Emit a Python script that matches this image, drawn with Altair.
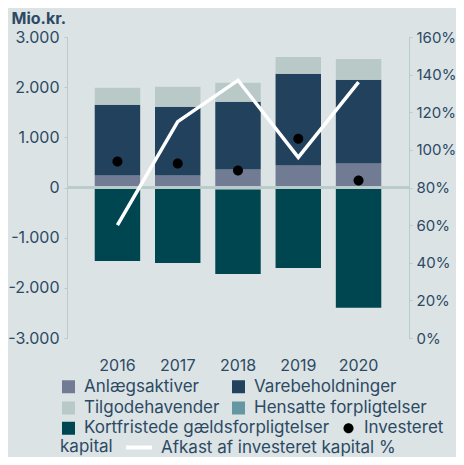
import altair as alt
import pandas as pd

years = ["2016", "2017", "2018", "2019", "2020"]
anlaeg = [238, 238, 358, 437, 477]
vare = [1411, 1371, 1351, 1828, 1669]
tilgode = [338, 398, 377, 338, 417]
hensatte = [-12, -12, -45, -15, -12]
kortfristede = [-1452, -1492, -1677, -1588, -2386]
investeret = [517, 477, 338, 974, 139]
afkast = [60, 115, 137, 96, 136]

bar_series = ["Anlægsaktiver", "Varebeholdninger", "Tilgodehavender",
              "Hensatte forpligtelser", "Kortfristede gældsforpligtelser"]
bar_colors = ["#717c94", "#22415c", "#b8c9c8", "#6497a1", "#004651"]
bar_values = [anlaeg, vare, tilgode, hensatte, kortfristede]
point_series = "Investeret kapital"
line_series = "Afkast af investeret kapital %"

rows = []
for i, s in enumerate(bar_series):
    for j, y in enumerate(years):
        rows.append({"year": y, "series": s, "order": i, "value": bar_values[i][j]})
bars_df = pd.DataFrame(rows)
pts_df = pd.DataFrame({"year": years, "investeret": investeret, "series": point_series})
line_df = pd.DataFrame({"year": years, "afkast": afkast, "series": line_series})

FONT = "Inter"
TXT = "#2c4a64"
AX = "#b9cbca"
FS = 16
LFS = 17
CIRCLE = "M-0.77,0A0.77,0.77,0,1,1,0.77,0A0.77,0.77,0,1,1,-0.77,0Z"
DASH = "M-1,0H3"

common_leg = dict(orient="none", direction="horizontal", labelFontSize=LFS, labelColor=TXT,
                  labelFont=FONT, labelLimit=400, columnPadding=10,
                  padding=0, symbolSize=169)

x_enc = alt.X("year:O", title=None,
              scale=alt.Scale(paddingInner=0.246, paddingOuter=0.46),
              axis=alt.Axis(domain=False, ticks=False, labelAngle=0, labelPadding=19,
                            labelFontSize=FS, labelColor=TXT, labelFont=FONT))

left_axis = alt.Axis(orient="left", values=[-3000, -2000, -1000, 0, 1000, 2000, 3000],
                     labelExpr="(datum.value < 0 ? '-' : '') + replace(format(abs(datum.value), ','), ',', '.')",
                     grid=False, domainColor=AX, tickColor=AX, tickSize=3, labelPadding=5,
                     labelFontSize=FS, labelColor=TXT, labelFont=FONT,
                     title="Mio.kr.", titleAngle=0, titleX=-56, titleY=-14, titleAlign="left",
                     titleBaseline="alphabetic", titleFontWeight="bold", titleFontSize=FS,
                     titleColor=TXT, titleFont=FONT)
yscale = alt.Scale(domain=[-3000, 3000], nice=False, zero=False)

leg1 = alt.Legend(title=None, legendX=-7, legendY=341, columns=2, gridAlign="each",
                  rowPadding=3.5, labelOffset=7, symbolStrokeWidth=0,
                  values=bar_series[:4], **common_leg)
leg2 = alt.Legend(title=None, legendX=-7, legendY=382.5, labelOffset=7, symbolStrokeWidth=0,
                  labelExpr="datum.label == 'Investeret kapital' ? 'Investeret' : datum.label",
                  **common_leg)
leg3 = alt.Legend(title="kapital", titleOrient="left", titleFontSize=LFS, titleFontWeight="normal",
                  titleColor=TXT, titleFont=FONT, titlePadding=11, titleBaseline="middle",
                  legendX=-7, legendY=402, labelOffset=20, symbolStrokeWidth=4,
                  symbolType=DASH, **common_leg)

bars = alt.Chart(bars_df).mark_bar().encode(
    x=x_enc,
    y=alt.Y("value:Q", scale=yscale, axis=left_axis),
    fill=alt.Fill("series:N", scale=alt.Scale(domain=bar_series, range=bar_colors), legend=leg1),
    order=alt.Order("order:Q"),
)

zero = alt.Chart(bars_df).mark_rule(color=AX, strokeWidth=2).encode(y=alt.datum(0))

leg2_domain = [bar_series[4], point_series]
points = alt.Chart(pts_df).mark_point(filled=True, size=169, opacity=1).encode(
    x=x_enc,
    y=alt.Y("investeret:Q", scale=yscale, axis=left_axis),
    color=alt.Color("series:N", scale=alt.Scale(domain=leg2_domain, range=[bar_colors[4], "#000000"]),
                    legend=leg2),
    shape=alt.Shape("series:N", scale=alt.Scale(domain=leg2_domain, range=["square", CIRCLE]),
                    legend=leg2),
)

left = alt.layer(bars, zero, points)

line = alt.Chart(line_df).mark_line(strokeWidth=3.5).encode(
    x=x_enc,
    y=alt.Y("afkast:Q", scale=alt.Scale(domain=[0, 160], nice=False),
            axis=alt.Axis(orient="right", values=[0, 20, 40, 60, 80, 100, 120, 140, 160],
                          labelExpr="datum.value + '%'", grid=False, domainColor=AX,
                          tickColor=AX, tickSize=3, labelPadding=4, labelFontSize=15,
                          labelColor=TXT, labelFont=FONT, title=None)),
    stroke=alt.Stroke("series:N", scale=alt.Scale(domain=[line_series], range=["#ffffff"]),
                      legend=leg3),
)

chart = alt.layer(left, line).resolve_scale(y="independent").properties(
    width=342, height=301,
    padding={"left": 59, "top": 29, "right": 47, "bottom": 119},
    autosize=alt.AutoSizeParams(type="none"),
    background="#dbe3e4",
).configure_view(stroke=None)

chart.save("out.html", embed_options={"renderer": "svg", "actions": False})
